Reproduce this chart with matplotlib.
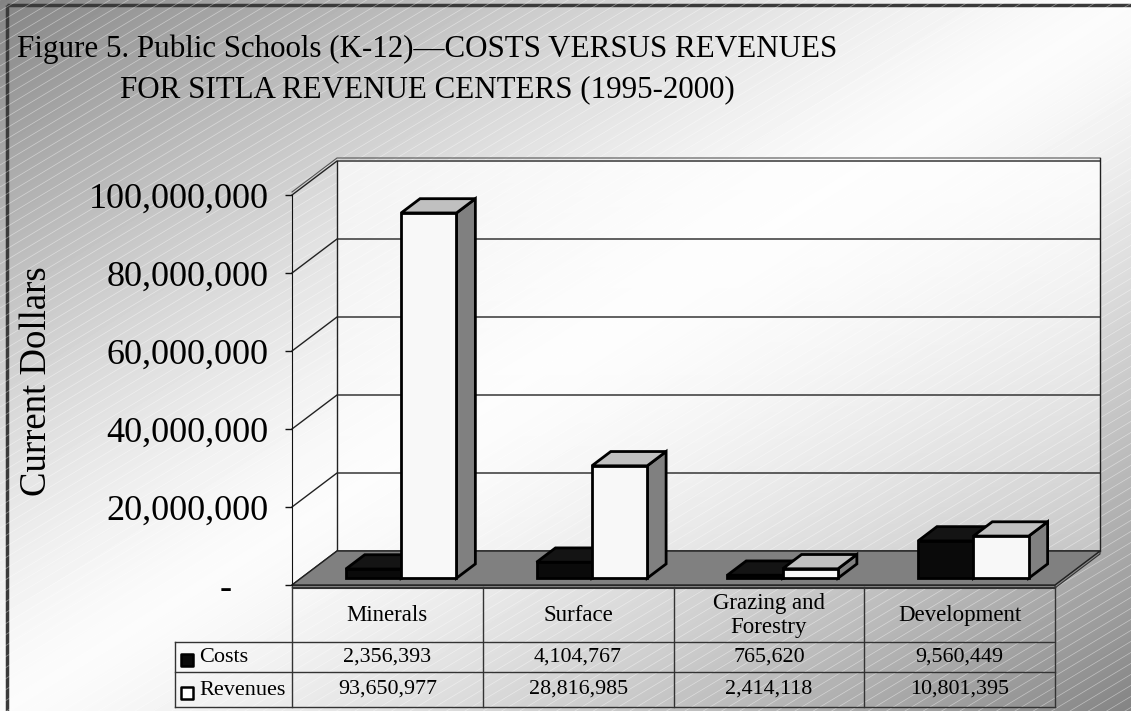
import matplotlib
matplotlib.use('Agg')
import matplotlib.pyplot as plt
import numpy as np
from matplotlib.patches import Polygon, Rectangle
from matplotlib.ticker import FixedLocator, FuncFormatter

plt.rcParams['font.family'] = ['Liberation Serif', 'DejaVu Serif']

categories = ['Minerals', 'Surface', 'Grazing and\nForestry', 'Development']
series = ['Costs', 'Revenues']
costs = [2356393, 4104767, 765620, 9560449]
revenues = [93650977, 28816985, 2414118, 10801395]
yticks = [0, 20000000, 40000000, 60000000, 80000000, 100000000]
title1 = 'Figure 5. Public Schools (K-12)\u2014COSTS VERSUS REVENUES'
title2 = 'FOR SITLA REVENUE CENTERS (1995-2000)'
ylabel = 'Current Dollars'

W, H = 1131, 711
fig = plt.figure(figsize=(W / 100, H / 100), dpi=100)

# background: diagonal grey gradient + light hatch lines
bg = fig.add_axes([0, 0, 1, 1], zorder=0)
bg.axis('off')
yy, xx = np.mgrid[0:H, 0:W]
t = (xx / W + yy / H) / 2
d = np.abs(2 * t - 1)
shade = 0.985 - 0.47 * d ** 1.4
bg.imshow(shade, cmap='gray', vmin=0, vmax=1, extent=(0, W, H, 0),
          aspect='auto', interpolation='bilinear')
slope = 0.6
for c in np.arange(0, H + slope * W + 11, 11):
    bg.plot([0, W], [c, c - slope * W], color='white', lw=0.5, alpha=0.45)
bg.add_patch(Rectangle((7, 5), W, H, fill=False, ec='#3a3a3a', lw=2.5))
bg.set_xlim(0, W)
bg.set_ylim(H, 0)

# main plot area (front plane)
L, R, B, T = 292, 1055, 585, 195
ncat = len(categories)
ymax = yticks[-1]
ax = fig.add_axes([L / W, 1 - B / H, (R - L) / W, (B - T) / H], zorder=1)
ax.patch.set_alpha(0)
px_x = ncat / (R - L)
px_y = ymax / (B - T)
DX, DY = 45 * px_x, 34 * px_y

# back wall
wall = np.ones((100, 1, 4))
wall[..., 3] = np.linspace(0.75, 0.3, 100)[:, None]
ax.imshow(wall, extent=(DX, ncat + DX, DY, ymax + DY), aspect='auto',
          interpolation='bilinear', clip_on=False, zorder=0)
# side wall
ax.add_patch(Polygon([(0, 0), (DX, DY), (DX, ymax + DY), (0, ymax)],
                     closed=True, fc='white', alpha=0.15, ec='none',
                     clip_on=False, zorder=0))

for v in yticks:
    ax.plot([0, DX, ncat + DX], [v, v + DY, v + DY], color='#222222', lw=1,
            clip_on=False, zorder=1)
th = 3 * px_y
ax.plot([0, DX, ncat + DX], [ymax + th, ymax + DY + th, ymax + DY + th],
        color='#555555', lw=0.8, clip_on=False, zorder=1)
ax.plot([DX, DX], [DY, ymax + DY], color='#222222', lw=1, clip_on=False, zorder=1)
ax.plot([ncat + DX] * 2, [DY, ymax + DY + th], color='#222222', lw=1,
        clip_on=False, zorder=1)

# floor
ax.add_patch(Polygon([(0, -th), (ncat, -th), (ncat, 0), (0, 0)], closed=True,
                     fc='#9a9a9a', ec='#333333', lw=0.8, clip_on=False, zorder=2))
ax.add_patch(Polygon([(ncat, -th), (ncat + DX, DY - th), (ncat + DX, DY), (ncat, 0)],
                     closed=True, fc='#8a8a8a', ec='#333333', lw=0.8,
                     clip_on=False, zorder=2))
ax.add_patch(Polygon([(0, 0), (ncat, 0), (ncat + DX, DY), (DX, DY)], closed=True,
                     fc='#808080', ec='#222222', lw=1, clip_on=False, zorder=2))

# 3-D columns
bar_w = 0.29
offsets = [0.235, 0.525]
front, back = 0.2, 0.62
faces = [('#0a0a0a', '#141414', '#0a0a0a'), ('#f8f8f8', '#c0c0c0', '#808080')]
fx, fy = front * DX, front * DY
bx, by = back * DX, back * DY
for i in range(ncat):
    for s, vals in enumerate([costs, revenues]):
        v = vals[i]
        x0 = i + offsets[s]
        x1 = x0 + bar_w
        fc_front, fc_top, fc_side = faces[s]
        side = [(x1 + fx, fy), (x1 + bx, by), (x1 + bx, v + by), (x1 + fx, v + fy)]
        top = [(x0 + fx, v + fy), (x1 + fx, v + fy), (x1 + bx, v + by), (x0 + bx, v + by)]
        frnt = [(x0 + fx, fy), (x1 + fx, fy), (x1 + fx, v + fy), (x0 + fx, v + fy)]
        for pts, col in [(side, fc_side), (top, fc_top), (frnt, fc_front)]:
            ax.add_patch(Polygon(pts, closed=True, fc=col, ec='black', lw=2,
                                 joinstyle='miter', clip_on=False, zorder=3))

ax.set_xlim(0, ncat)
ax.set_ylim(0, ymax)
for sp in ['top', 'right', 'bottom']:
    ax.spines[sp].set_visible(False)
ax.spines['left'].set_color('#111111')
ax.spines['left'].set_zorder(2.5)
ax.set_xticks([])
ax.yaxis.set_major_locator(FixedLocator(yticks))
ax.yaxis.set_major_formatter(FuncFormatter(lambda v, p: f'{v:,.0f}' if v else '-    '))
ax.tick_params(axis='y', direction='out', length=5, width=1, pad=12,
               labelsize=26, color='#111111')

# data table under the plot
TL, TT, TB = 175, 587, 707
tab = fig.add_axes([TL / W, 1 - TB / H, (R - TL) / W, (TB - TT) / H], zorder=1)
tab.axis('off')
x_leg = -(L - TL) * px_x
rows = [0, 55, 85, 120]
lc = dict(color='#333333', lw=1, clip_on=False)
tab.plot([0, ncat], [0, 0], **lc)
for k in range(ncat + 1):
    tab.plot([k, k], [rows[0], rows[-1]], **lc)
for r in rows[1:]:
    tab.plot([x_leg, ncat], [r, r], **lc)
tab.plot([x_leg, x_leg], [rows[1], rows[-1]], **lc)

for i, name in enumerate(categories):
    tab.text(i + 0.5, (rows[0] + rows[1]) / 2 + 1, name, ha='center', va='center',
             fontsize=16.5, linespacing=1.15)
    for s, vals in enumerate([costs, revenues]):
        tab.text(i + 0.5, (rows[s + 1] + rows[s + 2]) / 2, f'{vals[i]:,}',
                 ha='center', va='center', fontsize=15.8)

for s, name in enumerate(series):
    yc = (rows[s + 1] + rows[s + 2]) / 2
    tab.scatter([x_leg + 12 * px_x], [yc + 3], marker='s', s=80,
                fc=faces[s][0] if s == 0 else 'white', ec='black', lw=1.8,
                clip_on=False, zorder=3)
    tab.text(x_leg + 24 * px_x, yc + 1, name, ha='left', va='center', fontsize=16)
tab.set_xlim(x_leg, ncat)
tab.set_ylim(TB - TT, 0)

# titles
fig.text(17 / W, 1 - 57 / H, title1, fontsize=22.3, va='baseline')
fig.text(120 / W, 1 - 97 / H, title2, fontsize=22.3, va='baseline')
fig.text(37 / W, 1 - 381 / H, ylabel, rotation=90, ha='center', va='center',
         fontsize=26.5)

fig.savefig('out.png', dpi=100)
